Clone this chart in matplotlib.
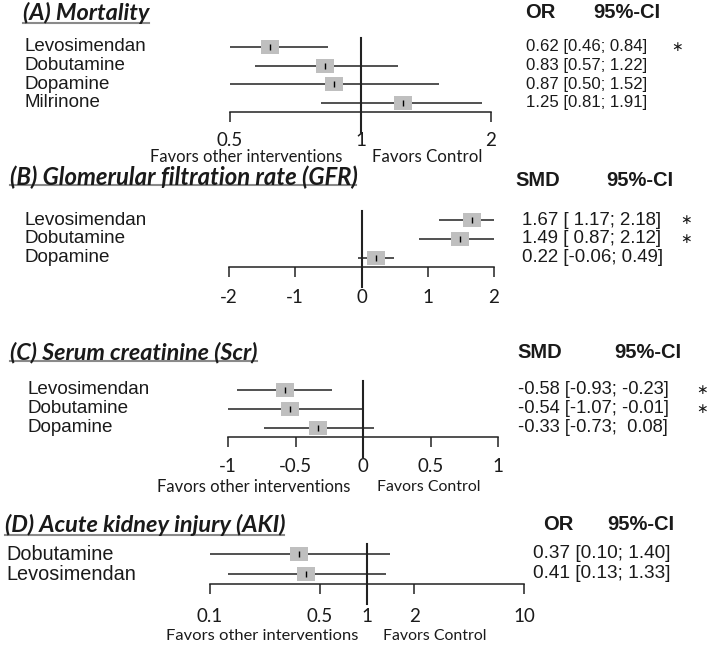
import matplotlib
matplotlib.use("Agg")
import matplotlib.pyplot as plt
from matplotlib.path import Path
from matplotlib.lines import Line2D
from matplotlib.ticker import NullLocator
from matplotlib.transforms import blended_transform_factory

# ---------------- data ----------------
A_labels = ["Levosimendan", "Dobutamine", "Dopamine", "Milrinone"]
A_est = [0.62, 0.83, 0.87, 1.25]
A_lo = [0.46, 0.57, 0.50, 0.81]
A_hi = [0.84, 1.22, 1.52, 1.91]
A_ticks = [0.5, 1, 2]
A_ticklabels = ["0.5", "1", "2"]

B_labels = ["Levosimendan", "Dobutamine", "Dopamine"]
B_est = [1.67, 1.49, 0.22]
B_lo = [1.17, 0.87, -0.06]
B_hi = [2.18, 2.12, 0.49]
B_ticks = [-2, -1, 0, 1, 2]
B_ticklabels = ["-2", "-1", "0", "1", "2"]

C_labels = ["Levosimendan", "Dobutamine", "Dopamine"]
C_est = [-0.58, -0.54, -0.33]
C_lo = [-0.93, -1.07, -0.73]
C_hi = [-0.23, -0.01, 0.08]
C_ticks = [-1, -0.5, 0, 0.5, 1]
C_ticklabels = ["-1", "-0.5", "0", "0.5", "1"]

D_labels = ["Dobutamine", "Levosimendan"]
D_est = [0.37, 0.41]
D_lo = [0.10, 0.13]
D_hi = [1.40, 1.33]
D_ticks = [0.1, 0.5, 1, 2, 10]
D_ticklabels = ["0.1", "0.5", "1", "2", "10"]

titles = ["(A) Mortality", "(B) Glomerular filtration rate (GFR)",
          "(C) Serum creatinine (Scr)", "(D) Acute kidney injury (AKI)"]
measures = ["OR", "SMD", "SMD", "OR"]
ci_header = "95%-CI"
favors_left = "Favors other interventions"
favors_right = "Favors Control"

# ---------------- layout ----------------
W, H = 709, 645
fig = plt.figure(figsize=(W / 100, H / 100), dpi=100)
fig.patch.set_facecolor("white")

def fx(px):
    return px / W

def fy(py):
    return 1 - py / H

LINE = "#222222"
TXT = "#1a1a1a"
BOX = "#bfbfbf"
box_marker = Path([(-9, -7), (9, -7), (9, 7), (-9, 7), (-9, -7)],
                  [Path.MOVETO, Path.LINETO, Path.LINETO, Path.LINETO, Path.CLOSEPOLY])

renderer = fig.canvas.get_renderer()

def fit_size(s, width, base=12, **kw):
    t = fig.text(0, 0, s, fontsize=base, **kw)
    w = t.get_window_extent(renderer).width
    t.remove()
    return base * width / w

def fit_text(s, x0, x1, yc, base=12, **kw):
    size = fit_size(s, x1 - x0, base, **kw)
    return fig.text(fx(x0), fy(yc), s, ha="left", va="center", fontsize=size, **kw)

def fmt_col(vals):
    s = [f"{v:.2f}" for v in vals]
    w = max(len(x) for x in s)
    return [x.rjust(w) for x in s]

ARIAL = dict(fontfamily="Liberation Sans")
LABEL_H_SIZE = 12.8   # size matching glyph height of row labels
VALUE_H_SIZE = 12.0   # size matching glyph height of value columns

panels = [
    dict(labels=A_labels, est=A_est, lo=A_lo, hi=A_hi, ticks=A_ticks, tl=A_ticklabels,
         log=True, null=1, xlim=(0.5, 2), x0=230, x1=491, ytop=37.7, ybot=112, pad=7.5,
         title=(23, 149, 12.5, 22.7), label_x=(25, 153), val_x=(526, 647), head_y=13,
         head_x=(540, 627), star_x=677, favors=(150, 342, 372, 482, 156.5)),
    dict(labels=B_labels, est=B_est, lo=B_lo, hi=B_hi, ticks=B_ticks, tl=B_ticklabels,
         log=False, null=0, xlim=(-2, 2), x0=229, x1=494, ytop=210.75, ybot=267, pad=9,
         title=(10, 356, 177.5, 185.5), label_x=(25, 155), val_x=(522, 675), head_y=181,
         head_x=(538, 640), star_x=686, favors=None),
    dict(labels=C_labels, est=C_est, lo=C_lo, hi=C_hi, ticks=C_ticks, tl=C_ticklabels,
         log=False, null=0, xlim=(-1, 1), x0=228, x1=498, ytop=380.5, ybot=437, pad=8,
         title=(10, 257, 352.5, 360.5), label_x=(27, 157), val_x=(518, 682), head_y=353,
         head_x=(540, 648), star_x=702, favors=(157, 350, 377, 480, 487)),
    dict(labels=D_labels, est=D_est, lo=D_lo, hi=D_hi, ticks=D_ticks, tl=D_ticklabels,
         log=True, null=1, xlim=(0.1, 10), x0=210, x1=524, ytop=544, ybot=584, pad=10,
         title=(5, 284, 525, 535), label_x=(6, 150), val_x=(533, 686), head_y=525,
         head_x=(558, 641), star_x=None, favors=(166, 357, 383, 486, 635.5)),
]

for i, p in enumerate(panels):
    n = len(p["labels"])
    hpx = p["ybot"] - p["ytop"]
    ax = fig.add_axes([fx(p["x0"]), fy(p["ybot"]), (p["x1"] - p["x0"]) / W, hpx / H])
    ax.patch.set_visible(False)
    if p["log"]:
        ax.set_xscale("log")
    ax.set_xlim(*p["xlim"])
    ax.set_ylim(0.5, n + 0.5)
    ys = [n - k for k in range(n)]

    ax.hlines(ys, p["lo"], p["hi"], color=LINE, lw=1.1, zorder=2)
    ax.plot(p["est"], ys, ls="none", marker=box_marker, ms=13, mew=0,
            color=BOX, zorder=3)
    ax.plot(p["est"], ys, ls="none", marker="|", ms=4, mew=1.0,
            color="black", zorder=4)
    ax.axvline(p["null"], ymin=-20 / hpx, ymax=1, color=LINE, lw=1.5,
               clip_on=False, zorder=5)

    for s in ["top", "right", "left"]:
        ax.spines[s].set_visible(False)
    ax.spines["bottom"].set_color(LINE)
    ax.spines["bottom"].set_linewidth(1.1)
    ax.set_yticks([])
    ax.set_xticks(p["ticks"])
    ax.xaxis.set_minor_locator(NullLocator())
    ax.set_xticklabels(p["tl"], fontfamily="Lato", fontsize=13.5, color=TXT)
    ax.tick_params(axis="x", direction="out", length=7, width=1.1, color=LINE,
                   pad=p["pad"])

    tr = blended_transform_factory(fig.transFigure, ax.transData)
    ests = fmt_col(p["est"])
    los = fmt_col(p["lo"])
    his = fmt_col(p["hi"])
    vals = [f"{ests[k]} [{los[k]}; {his[k]}]" for k in range(n)]
    longest_label = max(p["labels"], key=len)
    lab_size = 0.5 * (LABEL_H_SIZE +
                      fit_size(longest_label, p["label_x"][1] - p["label_x"][0], **ARIAL))
    val_size = 0.5 * (VALUE_H_SIZE +
                      fit_size(max(vals, key=len), p["val_x"][1] - p["val_x"][0], **ARIAL))
    for k in range(n):
        fig.text(fx(p["label_x"][0]), ys[k], p["labels"][k], transform=tr,
                 ha="left", va="center", fontsize=lab_size, color=TXT, **ARIAL)
        fig.text(fx(p["val_x"][0]), ys[k], vals[k], transform=tr,
                 ha="left", va="center", fontsize=val_size, color=TXT, **ARIAL)
        sig = p["hi"][k] < p["null"] or p["lo"][k] > p["null"]
        if sig and p["star_x"] is not None:
            fig.text(fx(p["star_x"]), ys[k], "\u2217", transform=tr, ha="center", va="center",
                     fontsize=10, fontfamily="DejaVu Sans", color=TXT)

    # headers
    fig.text(fx(p["head_x"][0]), fy(p["head_y"]), measures[i], ha="center", va="center",
             fontsize=14.5, fontweight="bold", color=TXT, **ARIAL)
    fig.text(fx(p["head_x"][1]), fy(p["head_y"]), ci_header, ha="center", va="center",
             fontsize=14.5, fontweight="bold", color=TXT, **ARIAL)

    # title with underline
    tx0, tx1, tyc, uly = p["title"]
    fit_text(titles[i], tx0, tx1, tyc, fontfamily="Lato", fontweight="bold",
             fontstyle="italic", color=TXT)
    fig.add_artist(Line2D([fx(tx0), fx(tx1)], [fy(uly), fy(uly)], color="#8a8a8a",
                          lw=1.5, transform=fig.transFigure))

    if p["favors"] is not None:
        l0, l1, r0, r1, fyc = p["favors"]
        fit_text(favors_left, l0, l1, fyc, fontfamily="Lato", color=TXT)
        fit_text(favors_right, r0, r1, fyc, fontfamily="Lato", color=TXT)

fig.savefig("out.png", dpi=100, facecolor="white")
